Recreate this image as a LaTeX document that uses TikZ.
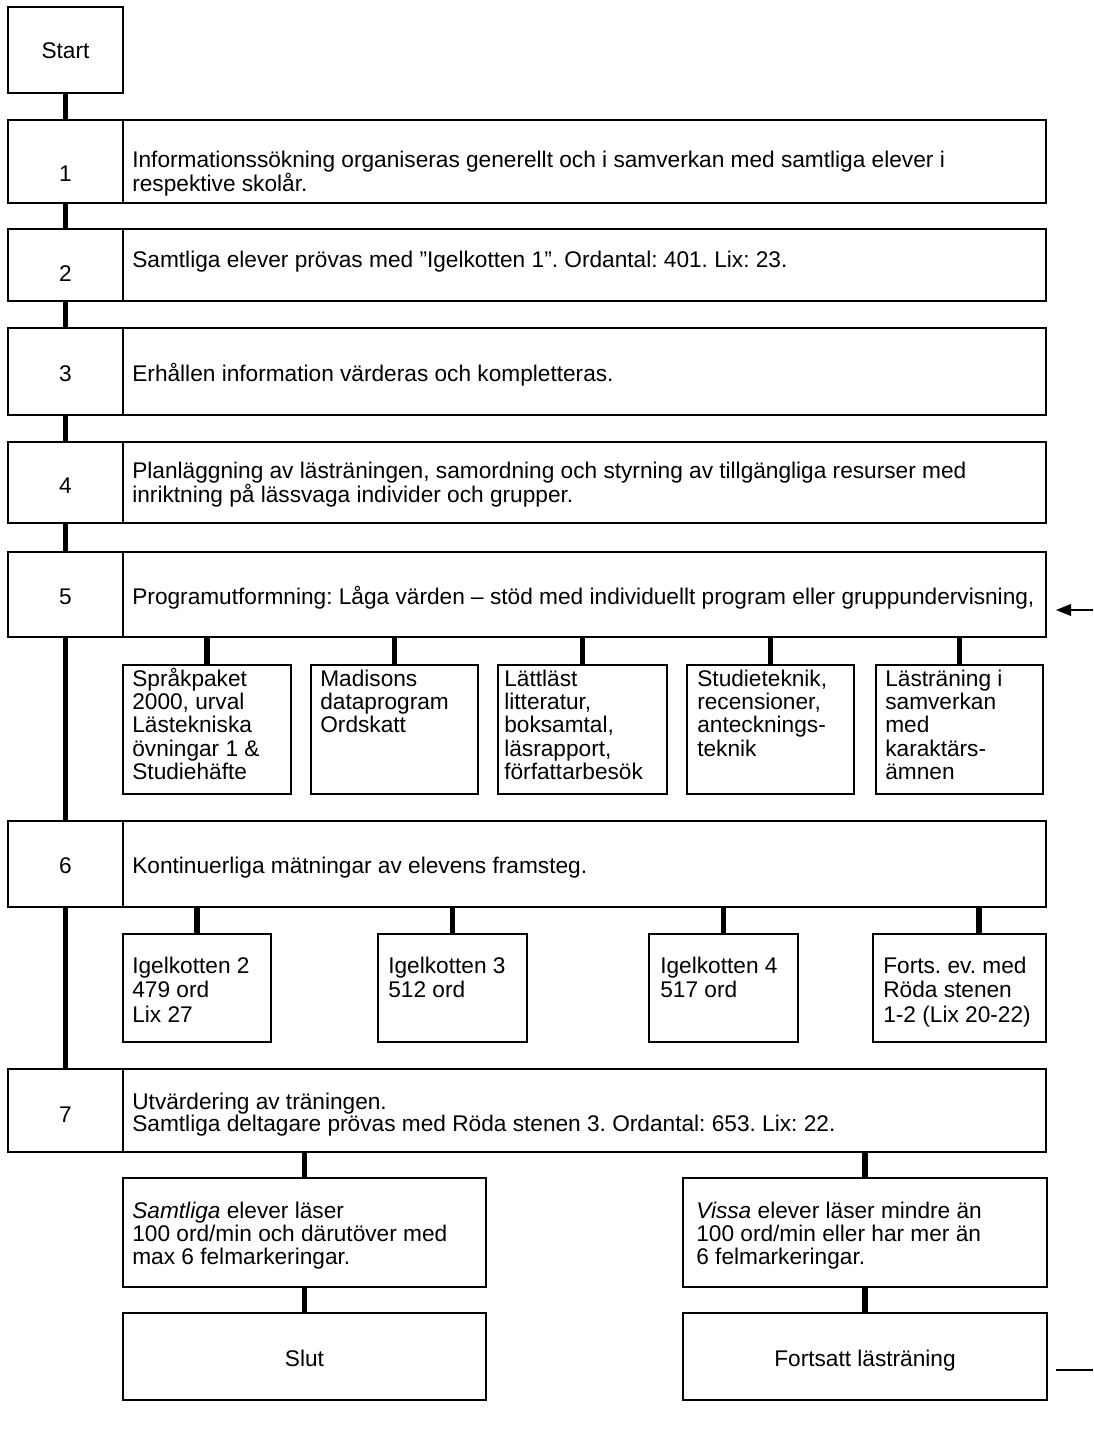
\documentclass[tikz,border=0pt]{standalone}
\usepackage{fontspec}
\setmainfont{Liberation Sans}
\usetikzlibrary{arrows.meta,fit}
\frenchspacing
\newcommand{\txtblock}[1]{\begin{tabular}[t]{@{}l@{}}#1\end{tabular}}
\begin{document}
\begin{tikzpicture}[x=0.6pt,y=-0.6pt,
  box/.style={draw,line width=1.25pt,inner sep=0pt,outer sep=0pt},
  conn/.style={line width=3.5pt},
  thin/.style={line width=1pt},
  txt/.style={inner sep=0pt,anchor=base west,font=\frenchspacing\fontsize{13.6}{12.6}\selectfont},
  sub/.style={inner sep=0pt,anchor=base west,font=\frenchspacing\fontsize{13.6}{13.9}\selectfont},
  subb/.style={inner sep=0pt,anchor=base west,font=\frenchspacing\fontsize{13.6}{14.8}\selectfont},
  num/.style={inner sep=0pt,anchor=base,font=\frenchspacing\fontsize{13.6}{14}\selectfont}]
\useasboundingbox (0,0) rectangle (1093,1437);

% Start
\node[box,fit={(8,7)(123,93)}] (start) {};
\node[num] (tstart) at (65.5,58) {Start};

% main boxes
\node[box,fit={(8,120)(123,203)}] (n1) {};
\node[box,fit={(123,120)(1046,203)}] (b1) {};
\node[num] (tn1) at (65.5,181) {1};
\node[txt] (tb1) at (132,167) {\txtblock{Informationssökning organiseras generellt och i samverkan med samtliga elever i\\respektive skolår.}};

\node[box,fit={(8,229)(123,301)}] (n2) {};
\node[box,fit={(123,229)(1046,301)}] (b2) {};
\node[num] (tn2) at (65.5,281) {2};
\node[txt] (tb2) at (132,267) {Samtliga elever prövas med ”Igelkotten 1”. Ordantal: 401. Lix: 23.};

\node[box,fit={(8,328)(123,415)}] (n3) {};
\node[box,fit={(123,328)(1046,415)}] (b3) {};
\node[num] (tn3) at (65.5,381) {3};
\node[txt] (tb3) at (132,381) {Erhållen information värderas och kompletteras.};

\node[box,fit={(8,442)(123,523)}] (n4) {};
\node[box,fit={(123,442)(1046,523)}] (b4) {};
\node[num] (tn4) at (65.5,493) {4};
\node[txt] (tb4) at (132,478) {\txtblock{Planläggning av lästräningen, samordning och styrning av tillgängliga resurser med\\inriktning på lässvaga individer och grupper.}};

\node[box,fit={(8,552)(123,637)}] (n5) {};
\node[box,fit={(123,552)(1046,637)}] (b5) {};
\node[num] (tn5) at (65.5,604) {5};
\node[txt] (tb5) at (132,604) {Programutformning: Låga värden – stöd med individuellt program eller gruppundervisning,};

% row 5 sub boxes
\node[box,fit={(123,665)(291,794)}] (s5a) {};
\node[box,fit={(311,665)(478,794)}] (s5b) {};
\node[box,fit={(498,665)(667,794)}] (s5c) {};
\node[box,fit={(687,665)(854,794)}] (s5d) {};
\node[box,fit={(876,665)(1043,794)}] (s5e) {};
\node[sub] (ts5a) at (132,686) {\txtblock{Språkpaket\\2000, urval\\Lästekniska\\övningar 1 \&\\Studiehäfte}};
\node[sub] (ts5b) at (320,686) {\txtblock{Madisons\\dataprogram\\Ordskatt}};
\node[sub] (ts5c) at (504,686) {\txtblock{Lättläst\\litteratur,\\boksamtal,\\läsrapport,\\författarbesök}};
\node[sub] (ts5d) at (697,686) {\txtblock{Studieteknik,\\recensioner,\\antecknings-\\teknik}};
\node[sub] (ts5e) at (885,686) {\txtblock{Lästräning i\\samverkan\\med\\karaktärs-\\ämnen}};

\node[box,fit={(8,821)(123,907)}] (n6) {};
\node[box,fit={(123,821)(1046,907)}] (b6) {};
\node[num] (tn6) at (65.5,873) {6};
\node[txt] (tb6) at (132,873) {Kontinuerliga mätningar av elevens framsteg.};

% row 6 sub boxes
\node[box,fit={(123,934)(271,1042)}] (s6a) {};
\node[box,fit={(378,934)(527,1042)}] (s6b) {};
\node[box,fit={(649,934)(798,1042)}] (s6c) {};
\node[box,fit={(873,934)(1046,1042)}] (s6d) {};
\node[subb] (ts6a) at (132,973) {\txtblock{Igelkotten 2\\479 ord\\Lix 27}};
\node[subb] (ts6b) at (388,973) {\txtblock{Igelkotten 3\\512 ord}};
\node[subb] (ts6c) at (660,973) {\txtblock{Igelkotten 4\\517 ord}};
\node[subb] (ts6d) at (883,973) {\txtblock{Forts. ev. med\\Röda stenen\\1-2 (Lix 20-22)}};
\coordinate (c6d) at (979,934);

\node[box,fit={(8,1069)(123,1152)}] (n7) {};
\node[box,fit={(123,1069)(1046,1152)}] (b7) {};
\node[num] (tn7) at (65.5,1122) {7};
\node[txt] (tb7) at (132,1109) {\txtblock{Utvärdering av träningen.\\Samtliga deltagare prövas med Röda stenen 3. Ordantal: 653. Lix: 22.}};

% outcome boxes
\node[box,fit={(123,1178)(486,1287)}] (sam) {};
\node[box,fit={(683,1178)(1047,1287)}] (vis) {};
\node[sub] (tsam) at (132,1218) {\txtblock{\textit{Samtliga} elever läser\\100 ord/min och därutöver med\\max 6 felmarkeringar.}};
\node[sub] (tvis) at (696,1218) {\txtblock{\textit{Vissa} elever läser mindre än\\100 ord/min eller har mer än\\6 felmarkeringar.}};

\node[box,fit={(123,1313)(486,1400)}] (slut) {};
\node[box,fit={(683,1313)(1047,1400)}] (fort) {};
\node[num] (tslut) at (304.5,1366) {Slut};
\node[num] (tfort) at (865,1366) {Fortsatt lästräning};

% connectors
\draw[conn] (start.south) -- (n1.north);
\draw[conn] (n1.south) -- (n2.north);
\draw[conn] (n2.south) -- (n3.north);
\draw[conn] (n3.south) -- (n4.north);
\draw[conn] (n4.south) -- (n5.north);
\draw[conn] (n5.south) -- (n6.north);
\draw[conn] (n6.south) -- (n7.north);
\foreach \s in {s5a,s5b,s5c,s5d,s5e}{
  \draw[conn] (b5.south -| \s.north) -- (\s.north);
}
\foreach \s in {s6a,s6b,s6c}{
  \draw[conn] (b6.south -| \s.north) -- (\s.north);
}
\draw[conn] (b6.south -| c6d) -- (c6d);
\draw[conn] (b7.south -| sam.north) -- (sam.north);
\draw[conn] (b7.south -| vis.north) -- (vis.north);
\draw[conn] (sam.south) -- (slut.north);
\draw[conn] (vis.south) -- (fort.north);

% side arrow and line
\coordinate (arrS) at (1093,610);
\coordinate (arrE) at (1056,610);
\draw[thin,-{Triangle[length=9pt,width=7pt]}] (arrS) -- (arrE);
\coordinate (lnS) at (1056,1370);
\coordinate (lnE) at (1093,1370);
\draw[thin] (lnS) -- (lnE);
\end{tikzpicture}
\end{document}
